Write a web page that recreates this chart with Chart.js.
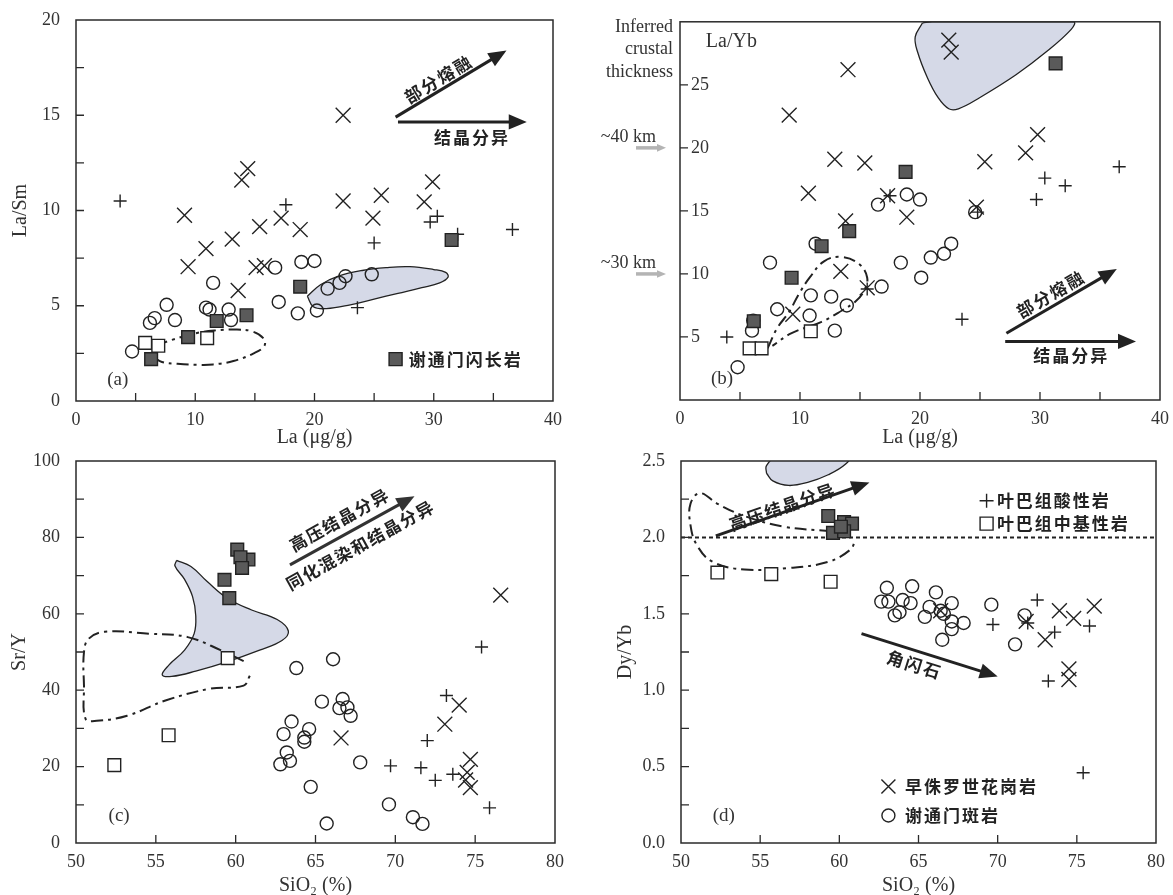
<!doctype html>
<html>
<head>
<meta charset="utf-8">
<title>La/Sm, La/Yb, Sr/Y, Dy/Yb</title>
<script src="https://cdn.jsdelivr.net/npm/chart.js"></script>
<style>
  html, body { margin: 0; padding: 0; background: #fff; }
  body { width: 1173px; height: 895px; position: relative; overflow: hidden; }
  canvas { position: absolute; left: 0; top: 0; }
</style>
</head>
<body>
<canvas id="pa" width="1173" height="895"></canvas>
<canvas id="pb" width="1173" height="895"></canvas>
<canvas id="pc" width="1173" height="895"></canvas>
<canvas id="pd" width="1173" height="895"></canvas>

<script>
// ---------- (a) La vs La/Sm ----------
var laTicks = [0, 10, 20, 30, 40];
var laSmTicks = [0, 5, 10, 15, 20];
var a_plus = [[3.7,10.5],[17.6,10.3],[25.0,8.3],[29.7,9.4],[30.3,9.7],[32.0,8.75],[36.6,9.0],[23.6,4.9]];
var a_cross = [[22.4,15.0],[13.9,11.6],[14.4,12.2],[9.4,7.05],[9.1,9.75],[10.9,8.0],[13.1,8.5],[13.6,5.8],
  [15.4,9.15],[15.1,7.0],[15.8,7.1],[17.2,9.6],[18.8,9.0],[22.4,10.5],[24.9,9.6],[25.6,10.8],[29.2,10.45],[29.9,11.5]];
var a_circle = [[4.7,2.6],[6.2,4.1],[6.6,4.35],[7.6,5.05],[8.3,4.25],[11.5,6.2],[10.9,4.9],[11.2,4.8],[12.8,4.8],
  [13.0,4.25],[16.7,7.0],[17.0,5.2],[18.6,4.6],[18.9,7.3],[20.0,7.35],[20.2,4.75],[21.1,5.9],[22.1,6.2],[22.6,6.55],[24.8,6.65]];
var a_openSq = [[5.8,3.05],[6.9,2.9],[11.0,3.3]];
var a_fillSq = [[6.3,2.2],[9.4,3.35],[11.8,4.2],[14.3,4.5],[18.8,6.0],[31.5,8.45]];
var a_field = [[19.4,5.5],[20.5,6.1],[22,6.55],[24,6.85],[26,7.0],[28,7.05],[30,6.9],[31,6.75],[31.2,6.5],[30.5,6.2],
  [29,5.95],[27,5.65],[25,5.35],[23,5.05],[21,4.85],[19.9,4.95],[19.4,5.5]];
var a_dash = [[6.7,2.9],[8.0,3.2],[10,3.55],[11.6,3.7],[13.5,3.75],[14.8,3.65],[15.7,3.3],[15.8,2.9],[14.9,2.5],
  [13.2,2.1],[11.5,1.92],[10.2,1.9],[8.5,1.95],[7.2,2.05],[6.5,2.3]];

// ---------- (b) La vs La/Yb ----------
var laYbTicks = [5, 10, 15, 20, 25];
var crustLabels = ['~40 km', '~30 km'];
var crustAt = [20, 10];
var b_plus = [[3.9,5.0],[23.5,6.4],[24.8,14.9],[29.7,15.9],[30.4,17.6],[32.1,17.0],[36.6,18.5],[17.5,16.2],[15.6,8.8]];
var b_cross = [[22.4,28.55],[22.6,27.6],[14.0,26.2],[9.1,22.6],[12.9,19.1],[15.4,18.8],[10.7,16.4],[17.3,16.2],
  [18.9,14.5],[13.8,14.2],[13.4,10.2],[15.6,8.9],[9.4,6.8],[24.7,15.3],[25.4,18.9],[28.8,19.6],[29.8,21.05]];
var b_circle = [[4.8,2.6],[6.1,6.3],[6.0,5.5],[7.5,10.9],[8.1,7.2],[10.8,6.7],[10.9,8.3],[11.3,12.4],[12.6,8.2],
  [12.9,5.5],[13.9,7.5],[16.5,15.5],[16.8,9.0],[18.4,10.9],[18.9,16.3],[20.0,15.9],[20.1,9.7],[20.9,11.3],
  [22.0,11.6],[22.6,12.4],[24.6,14.9]];
var b_openSq = [[5.8,4.1],[6.8,4.1],[10.9,5.45]];
var b_fillSq = [[6.15,6.25],[9.3,9.7],[11.8,12.2],[14.1,13.4],[18.8,18.1],[31.3,26.7]];
var b_field = [[20.2,29.9],[21,30],[32.8,30],[32.6,29.4],[30.5,27.6],[28,25.8],[25,24.0],[23.2,23.1],[22.4,23.1],
  [21.5,24.0],[20.6,25.6],[19.8,27.6],[19.6,28.8],[20.2,29.9]];
var b_dash = [[7.3,4.1],[8.1,5.7],[9.1,7.0],[9.9,8.4],[10.8,9.7],[12.0,11.0],[13.4,11.35],[14.9,10.8],[15.6,9.7],
  [15.3,8.6],[14.6,7.8],[13.5,7.1],[11.8,6.2],[9.3,5.3],[7.7,4.3]];

// ---------- (c) SiO2 vs Sr/Y ----------
var sioTicks = [50, 55, 60, 65, 70, 75, 80];
var srYTicks = [0, 20, 40, 60, 80, 100];
var c_fillSq = [[60.1,76.8],[60.8,74.2],[60.3,74.8],[60.4,72.0],[59.3,68.9],[59.6,64.1]];
var c_openSq = [[59.5,48.4],[55.8,28.2],[52.4,20.4]];
var c_circle = [[63.8,45.8],[66.1,48.1],[65.4,37.0],[66.7,37.7],[66.5,35.3],[67.0,35.5],[67.2,33.3],[63.5,31.8],
  [63.0,28.5],[64.6,29.8],[64.3,27.6],[64.3,26.5],[63.2,23.7],[63.4,21.5],[62.8,20.6],[67.8,21.1],[64.7,14.7],
  [69.6,10.1],[65.7,5.1],[71.1,6.75],[71.7,5.0]];
var c_plus = [[69.7,20.2],[71.6,19.7],[72.0,26.8],[72.5,16.4],[73.6,18.0],[73.2,38.6],[75.4,51.3],[75.9,9.2]];
var c_cross = [[76.6,64.9],[74.0,36.1],[73.1,31.1],[66.6,27.5],[74.7,21.9],[74.5,18.5],[74.4,16.5],[74.7,14.5]];
var c_field = [[56.3,74.0],[57.2,72.4],[58.2,68.5],[59.5,64.0],[61.0,61.0],[62.6,58.5],[63.3,55.5],[62.9,53.0],
  [61.5,50.5],[59.5,47.5],[57.5,45.0],[56.0,43.6],[55.4,44.0],[55.8,46.5],[56.8,50.5],[57.4,54.8],[57.5,59.5],
  [57.3,64.5],[56.8,69.0],[56.2,72.5],[56.3,74.0]];
var c_dash = [[60.5,47.6],[59.1,50.4],[57.0,53.9],[54.6,54.8],[51.8,55.3],[50.8,53.5],[50.5,50.0],[50.5,41.2],
  [50.6,32.5],[51.3,32.0],[53.2,33.3],[55.6,37.3],[58.4,40.4],[60.5,41.2],[60.9,43.9]];

// ---------- (d) SiO2 vs Dy/Yb ----------
var dyYbTicks = [0, 0.5, 1.0, 1.5, 2.0, 2.5];
var dyYbRef = 2.0;
var d_fillSq = [[59.3,2.14],[60.3,2.10],[60.8,2.09],[59.6,2.03],[60.3,2.04],[60.1,2.07]];
var d_openSq = [[52.3,1.77],[55.7,1.76],[59.45,1.71]];
var d_circle = [[63.0,1.67],[64.6,1.68],[66.1,1.64],[62.65,1.58],[63.1,1.58],[64.5,1.57],[63.5,1.49],[63.8,1.51],
  [65.4,1.48],[65.7,1.545],[66.4,1.52],[67.1,1.57],[67.1,1.45],[67.85,1.44],[67.1,1.40],[66.5,1.33],[69.6,1.56],
  [71.7,1.49],[71.1,1.30],[66.6,1.50],[64.0,1.59]];
var d_plus = [[72.5,1.59],[69.7,1.43],[71.9,1.44],[73.6,1.38],[75.8,1.42],[73.2,1.06],[75.4,0.46]];
var d_cross = [[73.9,1.52],[74.8,1.47],[76.1,1.55],[73.0,1.33],[74.5,1.14],[74.5,1.07],[71.8,1.45],[66.4,1.52]];
var d_field = [[55.4,2.42],[55.8,2.37],[56.8,2.34],[58,2.36],[59.3,2.41],[60.4,2.48],[60.8,2.55],[60,2.62],
  [58,2.62],[56.2,2.55],[55.4,2.47],[55.4,2.42]];
var d_dash = [[59.5,2.04],[56.5,2.07],[54,2.14],[52.3,2.22],[51.2,2.29],[50.6,2.22],[50.6,2.08],[51.0,1.95],
  [52.0,1.84],[54.0,1.79],[56.8,1.80],[59.3,1.84],[60.7,1.92],[61.0,1.98]];

var W = 1173, H = 895;
var INK = '#222';
var SHADE = '#d5d9e7';
var SQ = '#5a5a5a';
var SERIF = '"Liberation Serif", "Times New Roman", serif';
var CJK = '"Noto Sans CJK SC", "Noto Sans CJK JP", sans-serif';
var ZH = 'bold 17px ' + CJK;

function pts(arr) {
  return arr.map(function (p) { return { x: p[0], y: p[1] }; });
}

function markSet(arr, kind) {
  var ds = { data: pts(arr), borderColor: INK, borderWidth: 1.4, backgroundColor: 'rgba(0,0,0,0)' };
  if (kind === 'plus') { ds.pointStyle = 'cross'; ds.pointRadius = 6.5; }
  if (kind === 'cross') { ds.pointStyle = 'crossRot'; ds.pointRadius = 10.5; }
  if (kind === 'circle') { ds.pointStyle = 'circle'; ds.pointRadius = 6.5; }
  if (kind === 'osq') { ds.pointStyle = 'rect'; ds.pointRadius = 9; ds.backgroundColor = '#fff'; }
  if (kind === 'fsq') { ds.pointStyle = 'rect'; ds.pointRadius = 9; ds.backgroundColor = SQ; }
  return ds;
}

function fieldSet(arr) {
  return { type: 'line', data: pts(arr), fill: 'shape', backgroundColor: SHADE, borderColor: INK,
    borderWidth: 1.3, pointRadius: 0, tension: 0.4 };
}

function dashSet(arr) {
  return { type: 'line', data: pts(arr), fill: false, borderColor: INK, borderWidth: 2,
    borderDash: [12, 5, 3, 5], pointRadius: 0, tension: 0.4 };
}

function arrow(ctx, x1, y1, x2, y2, w, head, color) {
  var ang = Math.atan2(y2 - y1, x2 - x1);
  ctx.save();
  ctx.strokeStyle = color; ctx.fillStyle = color; ctx.lineWidth = w;
  ctx.beginPath();
  ctx.moveTo(x1, y1);
  ctx.lineTo(x2 - Math.cos(ang) * head * 0.8, y2 - Math.sin(ang) * head * 0.8);
  ctx.stroke();
  ctx.translate(x2, y2); ctx.rotate(ang);
  ctx.beginPath();
  ctx.moveTo(0, 0); ctx.lineTo(-head, -head * 0.42); ctx.lineTo(-head, head * 0.42);
  ctx.closePath(); ctx.fill();
  ctx.restore();
}

// legend symbols, same look as the point styles
function mark(ctx, kind, x, y) {
  ctx.save();
  ctx.lineWidth = 1.4; ctx.strokeStyle = INK;
  ctx.beginPath();
  if (kind === 'plus') {
    ctx.moveTo(x - 7, y); ctx.lineTo(x + 7, y); ctx.moveTo(x, y - 7); ctx.lineTo(x, y + 7); ctx.stroke();
  } else if (kind === 'cross') {
    ctx.moveTo(x - 7, y - 7); ctx.lineTo(x + 7, y + 7); ctx.moveTo(x + 7, y - 7); ctx.lineTo(x - 7, y + 7); ctx.stroke();
  } else if (kind === 'circle') {
    ctx.arc(x, y, 6.5, 0, Math.PI * 2); ctx.stroke();
  } else {
    ctx.rect(x - 6.5, y - 6.5, 13, 13);
    ctx.fillStyle = kind === 'fsq' ? SQ : '#fff';
    ctx.fill(); ctx.stroke();
  }
  ctx.restore();
}

function decorPlugin(d) {
  return {
    id: 'decor',
    afterDatasetsDraw: function (chart) {
      var ctx = chart.ctx, a = chart.chartArea, xs = chart.scales.x, ys = chart.scales.y;
      function P(p) { return [xs.getPixelForValue(p[0]), ys.getPixelForValue(p[1])]; }

      // frame + ticks pointing inwards
      ctx.save();
      ctx.strokeStyle = '#2a2a2a'; ctx.lineWidth = 1.5;
      ctx.strokeRect(a.left, a.top, a.right - a.left, a.bottom - a.top);
      ctx.lineWidth = 1.3;
      ctx.beginPath();
      xs.ticks.forEach(function (t) {
        var x = xs.getPixelForValue(t.value);
        if (x > a.left + 2 && x < a.right - 2) { ctx.moveTo(x, a.bottom); ctx.lineTo(x, a.bottom - 8); }
      });
      ys.ticks.forEach(function (t) {
        var y = ys.getPixelForValue(t.value);
        if (y > a.top + 2 && y < a.bottom - 2) { ctx.moveTo(a.left, y); ctx.lineTo(a.left + 8, y); }
      });
      ctx.stroke();
      ctx.restore();

      (d.arrows || []).forEach(function (ar) {
        var p = P(ar.from), q = P(ar.to);
        arrow(ctx, p[0], p[1], q[0], q[1], ar.w || 3, ar.head || 18, ar.color || INK);
      });
      (d.texts || []).forEach(function (tx) {
        var p = P(tx.at), ang = 0;
        if (tx.along !== undefined) {
          var ar = d.arrows[tx.along], p1 = P(ar.from), p2 = P(ar.to);
          ang = Math.atan2(p2[1] - p1[1], p2[0] - p1[0]);
        }
        ctx.save();
        ctx.translate(p[0], p[1]); ctx.rotate(ang);
        ctx.font = tx.font; ctx.fillStyle = tx.color || INK;
        ctx.textAlign = tx.align || 'center'; ctx.textBaseline = 'middle';
        if (tx.sp) ctx.letterSpacing = tx.sp;
        ctx.fillText(tx.t, 0, 0);
        ctx.restore();
      });
      (d.keys || []).forEach(function (k) {
        var p = P(k.at);
        mark(ctx, k.kind, p[0], p[1]);
      });
      if (d.extra) d.extra(chart, ctx, a, ys);
    }
  };
}

function axis(min, max, step, labels, fmt, title, extra) {
  var ax = {
    type: 'linear', min: min, max: max,
    grid: { display: false }, border: { display: false },
    ticks: {
      stepSize: step, autoSkip: false, maxRotation: 0, padding: 0, color: '#333',
      font: { family: SERIF, size: 18 },
      callback: function (v) {
        var hit = labels.some(function (l) { return Math.abs(l - v) < 1e-6; });
        return hit ? fmt(v) : '';
      }
    },
    title: title ? { display: true, text: title, color: '#333', font: { family: SERIF, size: 20 }, padding: 0 }
                 : { display: false }
  };
  if (extra) Object.assign(ax.ticks, extra);
  return ax;
}

function plain(v) { return String(v); }
function oneDec(v) { return v.toFixed(1); }

function panel(id, box, xs, ys, datasets, decor) {
  xs.afterFit = function (s) { s.height = box.xh; };
  ys.afterFit = function (s) { s.width = box.yw; };
  return new Chart(document.getElementById(id), {
    type: 'scatter',
    data: { datasets: datasets },
    options: {
      responsive: false, animation: false, events: [],
      layout: { padding: { left: box.l - box.yw, top: box.t, right: W - box.r, bottom: H - box.b - box.xh } },
      plugins: { legend: { display: false }, tooltip: { enabled: false } },
      scales: { x: xs, y: ys }
    },
    plugins: [decorPlugin(decor)]
  });
}

// (a)
panel('pa', { l: 76, r: 553, t: 20, b: 401, yw: 67, xh: 49 },
  axis(0, 40, 5, laTicks, plain, 'La (μg/g)'),
  axis(0, 20, 2.5, laSmTicks, plain, 'La/Sm', { padding: 8 }),
  [markSet(a_fillSq, 'fsq'), markSet(a_openSq, 'osq'), markSet(a_cross, 'cross'), markSet(a_plus, 'plus'),
   markSet(a_circle, 'circle'), dashSet(a_dash), fieldSet(a_field)],
  {
    arrows: [{ from: [26.8, 14.9], to: [36.1, 18.4] }, { from: [27.0, 14.65], to: [37.8, 14.65] }],
    texts: [
      { t: '部分熔融', at: [30.4, 16.9], along: 0, font: ZH, sp: '2px' },
      { t: '结晶分异', at: [33.2, 13.85], font: ZH, sp: '2px' },
      { t: '谢通门闪长岩', at: [27.9, 2.2], font: ZH, sp: '2px', align: 'left' },
      { t: '(a)', at: [3.5, 1.1], font: '19px ' + SERIF, color: '#333' }
    ],
    keys: [{ kind: 'fsq', at: [26.8, 2.2] }]
  });

// (b)
panel('pb', { l: 680, r: 1160, t: 19, b: 400, yw: 40, xh: 50 },
  axis(0, 40, 5, laTicks, plain, 'La (μg/g)'),
  axis(0, 30, 5, laYbTicks, plain, null, { mirror: true, padding: 11 }),
  [markSet(b_fillSq, 'fsq'), markSet(b_openSq, 'osq'), markSet(b_cross, 'cross'), markSet(b_plus, 'plus'),
   markSet(b_circle, 'circle'), dashSet(b_dash), fieldSet(b_field)],
  {
    arrows: [{ from: [27.2, 5.3], to: [36.4, 10.4] }, { from: [27.1, 4.65], to: [38.0, 4.65] }],
    texts: [
      { t: '部分熔融', at: [30.9, 8.4], along: 0, font: ZH, sp: '2px' },
      { t: '结晶分异', at: [32.6, 3.5], font: ZH, sp: '2px' },
      { t: 'La/Yb', at: [2.15, 28.4], font: '20px ' + SERIF, color: '#333', align: 'left' },
      { t: '(b)', at: [3.5, 1.7], font: '19px ' + SERIF, color: '#333' }
    ],
    extra: function (chart, ctx, a, ys) {
      ctx.save();
      ctx.font = '18px ' + SERIF; ctx.fillStyle = '#333';
      ctx.textAlign = 'right'; ctx.textBaseline = 'middle';
      ['Inferred', 'crustal', 'thickness'].forEach(function (s, i) {
        ctx.fillText(s, a.left - 7, a.top + 5 + i * 22.5);
      });
      crustAt.forEach(function (v, i) {
        var y = ys.getPixelForValue(v);
        ctx.fillText(crustLabels[i], a.left - 24, y - 11);
        arrow(ctx, a.left - 44, y, a.left - 14, y, 3.5, 9, '#b4b4b4');
      });
      ctx.restore();
    }
  });

// (c)
panel('pc', { l: 76, r: 555, t: 461, b: 843, yw: 68, xh: 55 },
  axis(50, 80, 5, sioTicks, plain, 'SiO₂ (%)'),
  axis(0, 100, 10, srYTicks, plain, 'Sr/Y', { padding: 8 }),
  [markSet(c_fillSq, 'fsq'), markSet(c_openSq, 'osq'), markSet(c_cross, 'cross'), markSet(c_plus, 'plus'),
   markSet(c_circle, 'circle'), dashSet(c_dash), fieldSet(c_field)],
  {
    arrows: [{ from: [63.4, 72.8], to: [71.2, 90.8], color: '#333' }],
    texts: [
      { t: '高压结晶分异', at: [66.5, 84.6], along: 0, font: ZH, sp: '1.5px' },
      { t: '同化混染和结晶分异', at: [67.8, 78.0], along: 0, font: ZH, sp: '1.5px' },
      { t: '(c)', at: [52.7, 7.0], font: '19px ' + SERIF, color: '#333' }
    ]
  });

// (d)
var refLine = { type: 'line', data: pts([[50, dyYbRef], [80, dyYbRef]]), borderColor: INK, borderWidth: 2,
  borderDash: [4, 3], pointRadius: 0, fill: false };
panel('pd', { l: 681, r: 1156, t: 461, b: 843, yw: 67, xh: 55 },
  axis(50, 80, 5, sioTicks, plain, 'SiO₂ (%)'),
  axis(0, 2.5, 0.25, dyYbTicks, oneDec, 'Dy/Yb', { padding: 8 }),
  [markSet(d_fillSq, 'fsq'), markSet(d_openSq, 'osq'), markSet(d_cross, 'cross'), markSet(d_plus, 'plus'),
   markSet(d_circle, 'circle'), refLine, dashSet(d_dash), fieldSet(d_field)],
  {
    arrows: [{ from: [52.2, 2.01], to: [61.9, 2.36] }, { from: [61.4, 1.37], to: [70.0, 1.09] }],
    texts: [
      { t: '高压结晶分异', at: [56.4, 2.20], along: 0, font: ZH, sp: '1.5px' },
      { t: '角闪石', at: [64.75, 1.166], along: 1, font: ZH, sp: '2px' },
      { t: '叶巴组酸性岩', at: [69.95, 2.24], font: ZH, sp: '2px', align: 'left' },
      { t: '叶巴组中基性岩', at: [69.95, 2.09], font: ZH, sp: '2px', align: 'left' },
      { t: '早侏罗世花岗岩', at: [64.15, 0.37], font: ZH, sp: '2px', align: 'left' },
      { t: '谢通门斑岩', at: [64.15, 0.18], font: ZH, sp: '2px', align: 'left' },
      { t: '(d)', at: [52.7, 0.175], font: '19px ' + SERIF, color: '#333' }
    ],
    keys: [
      { kind: 'plus', at: [69.3, 2.24] }, { kind: 'osq', at: [69.3, 2.09] },
      { kind: 'cross', at: [63.1, 0.37] }, { kind: 'circle', at: [63.1, 0.18] }
    ]
  });
</script>
</body>
</html>
